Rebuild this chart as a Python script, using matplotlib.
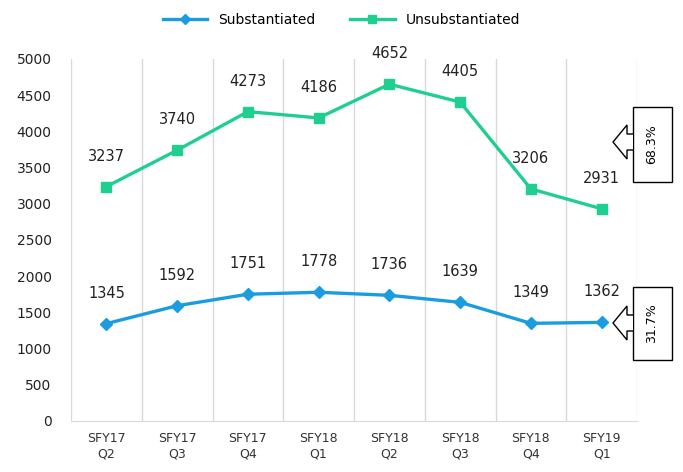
import matplotlib.pyplot as plt
from matplotlib.patches import Polygon, Rectangle

quarters = ['SFY17\nQ2', 'SFY17\nQ3', 'SFY17\nQ4', 'SFY18\nQ1',
            'SFY18\nQ2', 'SFY18\nQ3', 'SFY18\nQ4', 'SFY19\nQ1']
substantiated = [1345, 1592, 1751, 1778, 1736, 1639, 1349, 1362]
unsubstantiated = [3237, 3740, 4273, 4186, 4652, 4405, 3206, 2931]
shares = ['68.3%', '31.7%']

blue = '#1a9de0'
green = '#1fcf8f'

W, H = 683, 472
fig = plt.figure(figsize=(W / 100, H / 100), dpi=100)
ax = fig.add_axes([71 / W, (H - 421) / H, (637 - 71) / W, (421 - 59) / H])

x = list(range(len(quarters)))
ax.plot(x, substantiated, color=blue, lw=2.4, marker='D', ms=6, label='Substantiated')
ax.plot(x, unsubstantiated, color=green, lw=2.4, marker='s', ms=7, label='Unsubstantiated')

for i in x:
    ax.annotate(str(substantiated[i]), (i, substantiated[i]), xytext=(0, 22),
                textcoords='offset points', ha='center', va='center', fontsize=10.5, color='#222222')
    ax.annotate(str(unsubstantiated[i]), (i, unsubstantiated[i]), xytext=(0, 22),
                textcoords='offset points', ha='center', va='center', fontsize=10.5, color='#222222')

ax.set_xlim(-0.5, len(quarters) - 0.5)
ax.set_ylim(0, 5000)
ax.set_yticks(range(0, 5001, 500))
ax.set_xticks(x)
ax.set_xticklabels(quarters, fontsize=9, color='#333333')
ax.tick_params(axis='y', labelsize=10, colors='#222222', length=0, pad=14)
ax.tick_params(axis='x', length=0, pad=8)

# vertical separators between categories
for b in [i - 0.5 for i in range(len(quarters) + 1)]:
    ax.axvline(b, color='#d9d9d9', lw=1, zorder=0)
for s in ['top', 'right', 'left']:
    ax.spines[s].set_visible(False)
ax.spines['bottom'].set_color('#d9d9d9')

fig.legend(loc='upper center', bbox_to_anchor=(0.5, 1.0), ncol=2, frameon=False,
           fontsize=10, handlelength=3.2, columnspacing=2.5, markerscale=0.8)

# callout arrows on the right, drawn in pixel coordinates
ov = fig.add_axes([0, 0, 1, 1], zorder=5)
ov.set_xlim(0, W)
ov.set_ylim(H, 0)
ov.axis('off')
ov.patch.set_alpha(0)

for (top, bot, tip), txt in zip([(107, 182, 142), (287, 360, 323)], shares):
    ov.add_patch(Rectangle((633, top), 39, bot - top, fc='white', ec='black', lw=1))
    arrow = [(633, tip - 8), (627, tip - 8), (627, tip - 17), (613, tip),
             (627, tip + 17), (627, tip + 8), (633, tip + 8)]
    ov.add_patch(Polygon(arrow, closed=False, fc='white', ec='black', lw=1))
    ov.text(652, (top + bot) / 2, txt, rotation=90, ha='center', va='center', fontsize=9)

fig.savefig('out.png', dpi=100)
